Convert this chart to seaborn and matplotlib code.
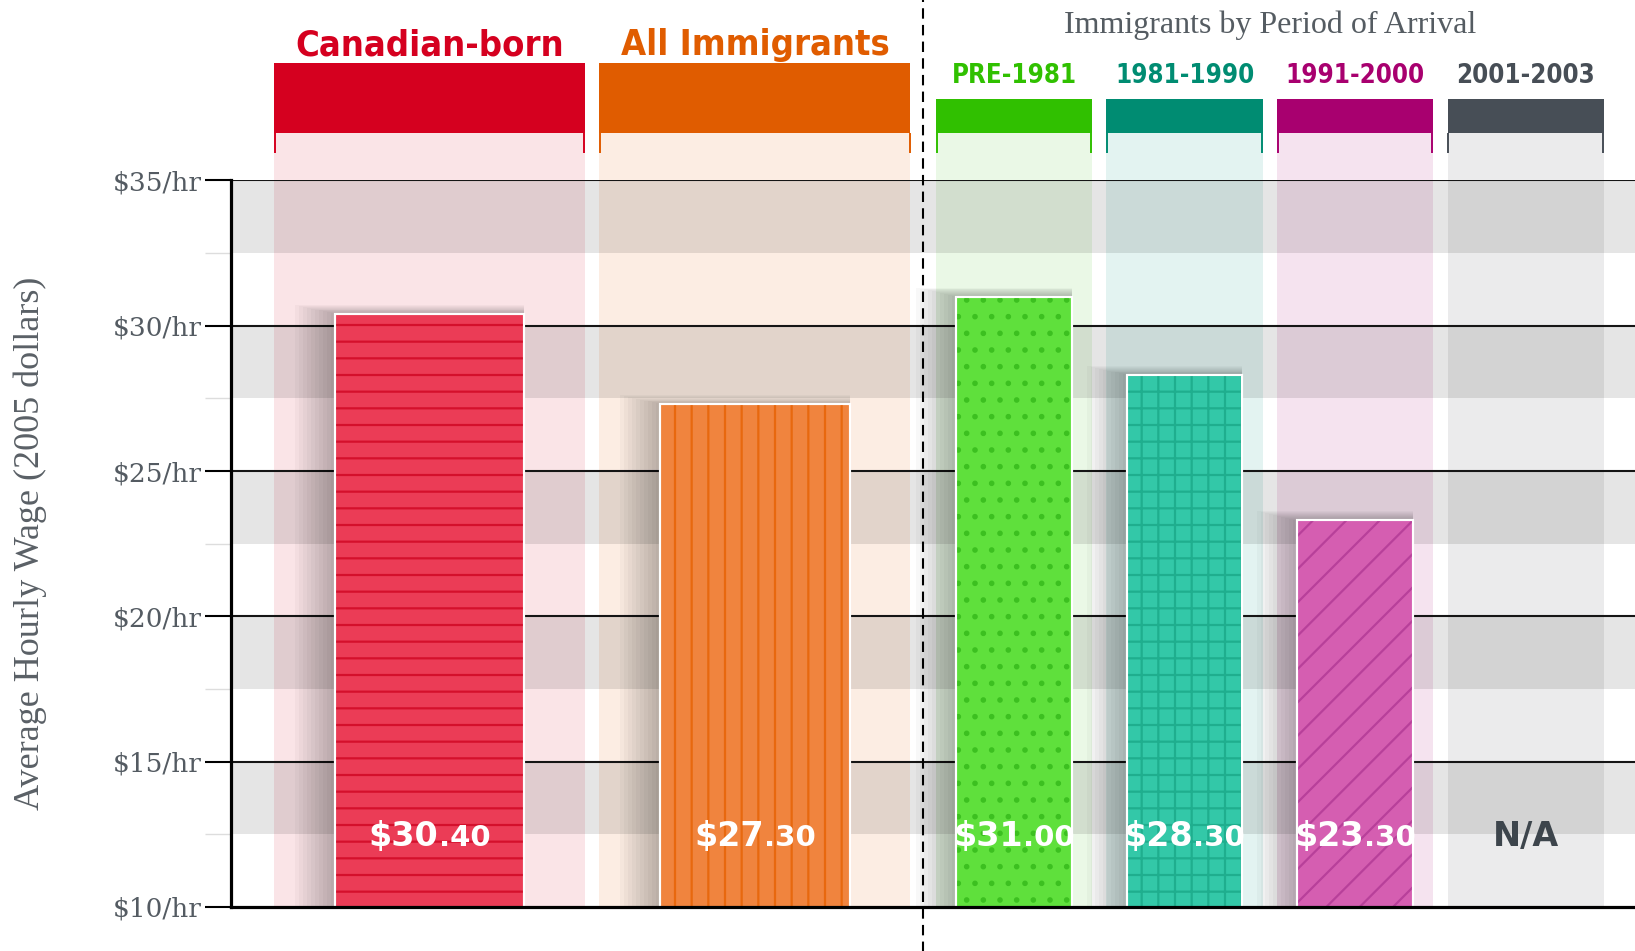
import numpy as np
import pandas as pd
import matplotlib
matplotlib.use("Agg")
import matplotlib.pyplot as plt
from matplotlib.patches import Rectangle
import seaborn as sns

# data
groups = ['Canadian-born', 'All Immigrants', 'PRE-1981', '1981-1990', '1991-2000', '2001-2003']
wages = [30.4, 27.3, 31.0, 28.3, 23.3, np.nan]
wage_labels = ['$30.40', '$27.30', '$31.00', '$28.30', '$23.30', 'N/A']
y_ticks = [10, 15, 20, 25, 30, 35]
y_tick_labels = ['$10/hr', '$15/hr', '$20/hr', '$25/hr', '$30/hr', '$35/hr']
period_title = 'Immigrants by Period of Arrival'
y_title = 'Average Hourly Wage (2005 dollars)'

# layout, x in units of one narrow column pitch
x_pos = [-3.428, -1.519, 0, 1, 2, 3]
col_width = [1.824, 1.824, 0.915, 0.915, 0.915, 0.915]
is_wide = [True, True, False, False, False, False]
col_top = 36.63
wide_head_top = 39.04
narrow_head_top = 37.8
bracket_low = 35.94
label_y = 12.1

header_colors = ['#d5001f', '#e05c00', '#30c000', '#008c72', '#a8006f', '#474e56']
tint_colors = ['#fae4e7', '#fcede3', '#eaf8e6', '#e3f3f1', '#f5e3ef', '#ebebec']
bar_colors = ['#eb3c56', '#f0843e', '#5fe03c', '#33c8a8', '#d55eb1', '#ebebec']
hatch_colors = ['#d4102c', '#e8680e', '#3cc020', '#1fae8e', '#b8409a', '#ebebec']
hatches = ['-', '|', '.', '+', '/', '']
label_colors = ['white'] * 5 + ['#3d454c']

sns.set_style("white")
plt.rcParams['font.family'] = ['DejaVu Sans']
plt.rcParams['hatch.linewidth'] = 1.6

df = pd.DataFrame({'group': groups, 'wage': wages, 'x': x_pos, 'wide': is_wide})
palette = dict(zip(groups, bar_colors))

fig = plt.figure(figsize=(16.35, 9.51), dpi=100)
ax = fig.add_axes([231 / 1635, 44 / 951, 1404 / 1635, 726.6 / 951])

wide = df[df['wide']]
narrow = df[~df['wide'] & df['wage'].notna()]
sns.barplot(data=wide, x='x', y='wage', hue='group', palette=palette, native_scale=True,
            orient='x', width=0.581, dodge=False, errorbar=None, legend=False, saturation=1,
            edgecolor='white', linewidth=1.5, zorder=3, ax=ax)
sns.barplot(data=narrow, x='x', y='wage', hue='group', palette=palette, native_scale=True,
            orient='x', width=0.680, dodge=False, errorbar=None, legend=False, saturation=1,
            edgecolor='white', linewidth=1.5, zorder=3, ax=ax)
bars = list(ax.patches)

ax.set_xlim(-4.592, 3.642)
ax.set_ylim(10, 35)

# px -> data conversion for the soft shadows
px_x = (3.642 + 4.592) / 1404
px_y = 25 / 726.6

for b in bars:
    cx = b.get_x() + b.get_width() / 2
    i = int(np.argmin([abs(cx - p) for p in x_pos]))
    top = b.get_y() + b.get_height()
    # hatch overlay
    ax.add_patch(Rectangle((b.get_x(), b.get_y()), b.get_width(), b.get_height(),
                           fill=False, hatch=hatches[i], edgecolor=hatch_colors[i],
                           lw=0, zorder=3.1))
    # white outline on top
    ax.add_patch(Rectangle((b.get_x(), b.get_y()), b.get_width(), b.get_height(),
                           fill=False, edgecolor='white', lw=1.5, zorder=3.2))
    # blurred shadow, mostly to the left
    for k in range(1, 11):
        ax.add_patch(Rectangle((b.get_x() - k * 4 * px_x, 10),
                               b.get_width() + k * 4 * px_x,
                               top - 10 + k * 0.9 * px_y,
                               color='black', alpha=0.026, lw=0, zorder=2.5))

# columns with their header blocks
for i, g in enumerate(groups):
    left = x_pos[i] - col_width[i] / 2
    right = x_pos[i] + col_width[i] / 2
    ax.add_patch(Rectangle((left, 10), col_width[i], col_top - 10, color=tint_colors[i],
                           lw=0, zorder=0.5, clip_on=False))
    top = wide_head_top if is_wide[i] else narrow_head_top
    ax.add_patch(Rectangle((left, col_top), col_width[i], top - col_top,
                           color=header_colors[i], lw=0, zorder=5, clip_on=False))
    for xe in (left + 0.004, right - 0.004):
        ax.plot([xe, xe], [bracket_low, col_top], color=header_colors[i], lw=1.4,
                solid_capstyle='butt', clip_on=False, zorder=5)
    if is_wide[i]:
        ax.text(x_pos[i], top + 0.26, g, ha='center', va='baseline', fontsize=26,
                fontweight='bold', fontstretch='condensed', color=header_colors[i])
    else:
        ax.text(x_pos[i], top + 0.54, g, ha='center', va='baseline', fontsize=18.5,
                fontweight='bold', fontstretch='condensed', color=header_colors[i])

ax.text(np.mean(x_pos[2:]), 40.08, period_title, ha='center', va='baseline',
        fontsize=23, family='Liberation Serif', color='#555c62')

# value labels: dollars big, cents smaller, sharing a baseline
fig.canvas.draw()
renderer = fig.canvas.get_renderer()
for i, lab in enumerate(wage_labels):
    if '.' in lab:
        whole, cents = lab.split('.')
        t1 = ax.text(x_pos[i], label_y, whole, ha='left', va='baseline', fontsize=24,
                     fontweight='bold', color=label_colors[i], zorder=6)
        t2 = ax.text(x_pos[i], label_y, '.' + cents, ha='left', va='baseline', fontsize=21,
                     fontweight='bold', color=label_colors[i], zorder=6)
        w1 = t1.get_window_extent(renderer).width
        w2 = t2.get_window_extent(renderer).width
        x_disp = ax.transData.transform((x_pos[i], label_y))[0]
        start = x_disp - (w1 + w2) / 2
        inv = ax.transData.inverted()
        t1.set_x(inv.transform((start, 0))[0])
        t2.set_x(inv.transform((start + w1, 0))[0])
    else:
        ax.text(x_pos[i], label_y, lab, ha='center', va='baseline', fontsize=24,
                fontweight='bold', color=label_colors[i], zorder=6)

# alternating bands and black gridlines
for t in y_ticks[:-1]:
    ax.axhspan(t + 2.5, t + 5, color='black', alpha=0.1, lw=0, zorder=1)
for t in y_ticks[1:]:
    ax.axhline(t, color='#151515', lw=1.5, zorder=2)

# dashed separator between totals and periods
sep = ((x_pos[1] + col_width[1] / 2) + (x_pos[2] - col_width[2] / 2)) / 2
ax.axvline(sep, ymin=-0.07, ymax=1.26, color='black', lw=1.5, ls=(0, (5, 3)),
           clip_on=False, zorder=7)

ax.set_xticks([])
ax.set_xlabel('')
ax.set_yticks(y_ticks, y_tick_labels, family='DejaVu Serif', fontsize=19, color='#545b62')
ax.set_yticks([t + 2.5 for t in y_ticks[:-1]], minor=True)
ax.tick_params(axis='y', which='major', length=19, width=1.5, color='black', pad=2, left=True)
ax.tick_params(axis='y', which='minor', length=19, width=1.0, color='#dddddd', left=True)
ax.set_ylabel(y_title, fontsize=26, family='Liberation Serif', color='#5a6066')
ax.yaxis.set_label_coords(-0.131, 0.5)

for s in ['top', 'right']:
    ax.spines[s].set_visible(False)
for s in ['left', 'bottom']:
    ax.spines[s].set_linewidth(2.3)
    ax.spines[s].set_color('black')
    ax.spines[s].set_zorder(8)

fig.savefig('out.png', dpi=100)
